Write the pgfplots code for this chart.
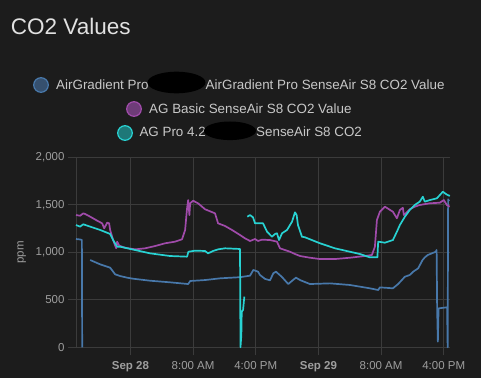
\documentclass[border=0pt]{standalone}
\usepackage{pgfplots}
\pgfplotsset{compat=1.18}
\usepackage{pgfplotstable}
\usepackage{fontspec}
\setmainfont{Liberation Sans}
\definecolor{bgc}{HTML}{1C1C1C}
\definecolor{gridc}{HTML}{3B3B3B}
\definecolor{tickc}{HTML}{9E9E9E}
\definecolor{legc}{HTML}{C8C8C8}
\definecolor{titlec}{HTML}{E1E1E1}
\definecolor{sblue}{HTML}{4878AA}
\definecolor{spurple}{HTML}{A04BAA}
\definecolor{scyan}{HTML}{28D2D2}
\definecolor{fblue}{HTML}{36506E}
\definecolor{fpurple}{HTML}{6E3C78}
\definecolor{fcyan}{HTML}{1E7878}

% x = hours since Sep 28 00:00, y = ppm
\pgfplotstableread{
x y
-6.95 1140
-6.42 1135
-6.20 1130
-6.16 0
nan nan
-5.14 919
-3.86 873
-2.59 838
-1.95 768
-1.31 750
-0.42 733
0.34 722
2.51 701
5.06 684
7.37 666
7.63 698
9.53 708
11.44 726
13.99 738
15.27 754
15.69 814
16.29 796
16.54 761
17.18 720
17.82 705
18.24 779
18.58 796
19.31 743
20.15 666
20.75 708
21.14 733
21.65 708
22.92 666
25.47 673
28.02 656
30.57 621
31.63 603
31.85 631
33.51 621
34.18 666
35.04 743
35.66 761
36.10 796
36.73 831
37.30 919
37.59 947
37.97 972
38.99 1006
39.09 1024
39.16 393
39.25 59
39.34 410
40.43 421
40.50 0
40.56 1558
40.68 1540
}\tblue

\pgfplotstableread{
x y
-6.95 1392
-6.42 1385
-6.03 1410
-5.78 1403
-5.14 1375
-4.25 1333
-3.61 1305
-3.35 1252
-2.97 1312
-2.72 1305
-2.59 1235
-2.21 1129
-1.82 1042
-1.70 1112
-1.44 1070
-0.68 1048
0.60 1031
1.88 1042
3.15 1066
4.43 1095
5.70 1112
6.59 1137
6.98 1235
7.23 1463
7.37 1550
7.53 1392
7.62 1516
8.00 1543
8.63 1516
9.53 1453
10.80 1410
11.19 1305
12.08 1277
12.97 1235
13.99 1182
14.63 1147
15.27 1119
15.91 1140
16.29 1119
16.80 1133
17.82 1129
18.71 1112
19.09 1042
19.73 1024
20.37 1006
21.01 982
21.65 961
22.92 943
24.20 929
26.11 929
28.02 943
29.94 961
30.83 972
31.21 1059
31.47 1340
31.85 1427
32.49 1480
33.51 1427
34.02 1358
34.40 1445
34.78 1469
34.91 1392
35.66 1453
36.30 1480
36.94 1498
38.23 1516
39.50 1522
40.01 1550
40.40 1498
40.76 1480
}\tpurple

\pgfplotstableread{
x y
-6.95 1287
-6.42 1270
-6.03 1295
-5.14 1270
-3.86 1235
-2.59 1193
-2.21 1129
-1.70 1059
-1.31 1059
0.60 1024
2.51 989
5.06 961
7.23 954
7.40 1006
8.25 1017
9.53 1014
9.91 989
10.55 1014
11.19 1031
12.08 1042
13.99 1035
14.05 0
14.16 129
14.21 375
14.38 393
14.54 533
nan nan
14.92 1375
15.27 1392
15.65 1368
15.91 1305
16.93 1305
17.44 1217
18.07 1164
18.46 1193
18.71 1200
18.97 1129
19.35 1200
19.99 1235
20.63 1322
21.01 1421
21.22 1392
21.39 1287
21.90 1164
22.28 1158
24.20 1095
26.11 1042
28.02 1006
29.30 982
30.57 947
31.53 947
31.63 1112
32.49 1101
33.51 1129
34.02 1217
34.40 1287
35.04 1375
35.66 1445
36.30 1498
36.94 1533
37.33 1585
37.58 1533
38.23 1550
39.12 1568
39.89 1638
40.27 1614
40.52 1603
40.78 1593
}\tcyan

\begin{document}
\begin{tikzpicture}
\fill[bgc] (0,0) rectangle (481pt,378pt);
\useasboundingbox (0,0) rectangle (481pt,378pt);
% title
\node[anchor=base west, inner sep=0pt, text=titlec, font=\fontsize{22.5}{25}\selectfont] at (10.7pt,343pt) {CO2 Values};
\begin{axis}[
  at={(76pt,30.7pt)}, anchor=south west,
  scale only axis, width=374pt, height=190pt,
  xmin=-6.95, xmax=40.8, ymin=0, ymax=2000,
  axis lines*=left,
  axis line style={draw=gridc, line width=0.8pt, -},
  grid=major,
  major grid style={draw=gridc, line width=0.8pt},
  tick align=outside,
  major tick length=8pt,
  tick style={draw=gridc, line width=0.8pt},
  xtick={0,8,16,24,32,40},
  xticklabels={\textbf{Sep 28},8:00 AM,4:00 PM,\textbf{Sep 29},8:00 AM,4:00 PM},
  ytick={0,500,1000,1500,2000},
  /pgf/number format/assume math mode=true,
  /pgf/number format/1000 sep={,},
  ticklabel style={font=\fontsize{11.5}{13}\selectfont, text=tickc},
  xticklabel style={yshift=-2.5pt},
  ylabel={ppm},
  ylabel style={font=\fontsize{11.5}{13}\selectfont, text=tickc, at={(axis description cs:-0.145,0.5)}, anchor=center},
  unbounded coords=jump,
  clip=false,
]
\addplot[sblue, line width=1.7pt, line join=round] table[x=x,y=y] {\tblue};
\addplot[spurple, line width=1.7pt, line join=round] table[x=x,y=y] {\tpurple};
\addplot[scyan, line width=1.7pt, line join=round] table[x=x,y=y] {\tcyan};
\end{axis}
% legend
\begin{scope}[font=\fontsize{13.4}{15}\selectfont]
\fill[fblue, draw=sblue, line width=1.2pt] (41pt,293pt) circle (7.3pt);
\node[anchor=base west, inner sep=0pt, text=legc] at (56pt,288.7pt) {AirGradient Pro};
\node[anchor=base west, inner sep=0pt, text=legc] at (205.5pt,288.7pt) {AirGradient Pro SenseAir S8 CO2 Value};
\fill[black] (176.5pt,295.5pt) ellipse (29pt and 10.8pt);
\fill[fpurple, draw=spurple, line width=1.2pt] (134pt,269pt) circle (7.3pt);
\node[anchor=base west, inner sep=0pt, text=legc] at (149pt,264.7pt) {AG Basic SenseAir S8 CO2 Value};
\fill[fcyan, draw=scyan, line width=1.2pt] (125pt,245pt) circle (7.3pt);
\node[anchor=base west, inner sep=0pt, text=legc] at (139.3pt,241.3pt) {AG Pro 4.2};
\node[anchor=base west, inner sep=0pt, text=legc] at (256pt,241.3pt) {SenseAir S8 CO2};
\fill[black] (230pt,247.2pt) ellipse (26pt and 9.3pt);
\end{scope}
\end{tikzpicture}
\end{document}
